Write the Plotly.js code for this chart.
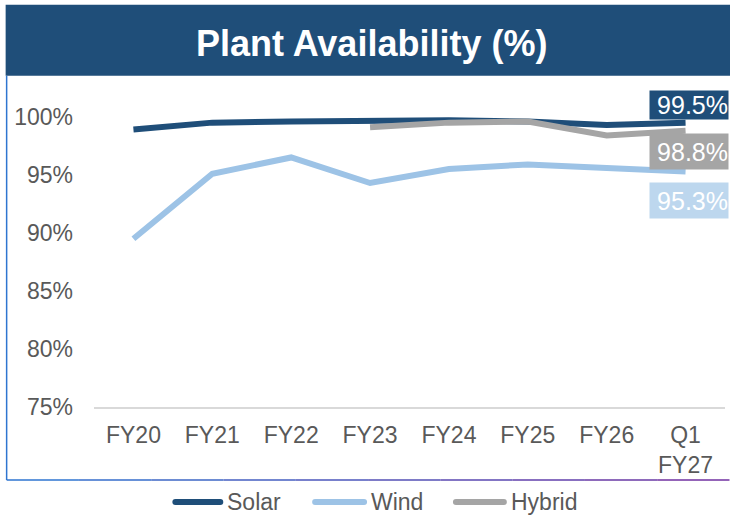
<!DOCTYPE html>
<html>
<head>
<meta charset="utf-8">
<script src="https://cdn.plot.ly/plotly-3.0.1.min.js"></script>
<style>html,body{margin:0;padding:0;background:#fff;}#chart{width:730px;height:518px;}</style>
</head>
<body>
<div id="chart"></div>
<script>
const categories = ["FY20", "FY21", "FY22", "FY23", "FY24", "FY25", "FY26", "Q1<br>FY27"];
const solar  = [98.9, 99.5, 99.6, 99.65, 99.7, 99.6, 99.3, 99.5];
const wind   = [89.5, 95.1, 96.5, 94.3, 95.5, 95.9, 95.6, 95.3];
const hybrid = [null, null, null, 99.1, 99.5, 99.6, 98.4, 98.8];
const yTickVals = [75, 80, 85, 90, 95, 100];
const yTickText = ["75%", "80%", "85%", "90%", "95%", "100%"];
const seriesNames = ["Solar", "Wind", "Hybrid"];
const titleText = "Plant Availability (%)";

const FONT = "Liberation Sans, Arial, sans-serif";
const colors = {Solar: "#1F4E79", Wind: "#9DC3E6", Hybrid: "#A5A5A5"};
const labelBg = {Solar: "#1F4E79", Wind: "#BDD7EE", Hybrid: "#A5A5A5"};
const seriesData = {Solar: solar, Wind: wind, Hybrid: hybrid};

const traces = seriesNames.map(n => ({
  type: "scatter", mode: "lines", name: n,
  x: categories, y: seriesData[n],
  line: {color: colors[n], width: 6},
  connectgaps: false, hoverinfo: "skip", showlegend: false
}));

const W = 730, H = 518, ml = 93.5, mr = 4.5, mt = 82.2, mb = 111;
const pw = W - ml - mr, ph = H - mt - mb;
const px = x => (x - ml) / pw;
const py = y => (H - mb - y) / ph;

// value label boxes (styling positions)
const labelBox = {Solar: [91, 119], Hybrid: [134, 169], Wind: [183, 218]};
const last = categories.length - 1;
const annotations = seriesNames.map(n => ({
  xref: "paper", yref: "paper", x: px(730), xanchor: "right",
  y: py((labelBox[n][0] + labelBox[n][1]) / 2), yanchor: "middle",
  text: seriesData[n][last].toFixed(1) + "%",
  showarrow: false, bgcolor: labelBg[n], width: 78, height: labelBox[n][1] - labelBox[n][0],
  align: "right", borderpad: 0,
  font: {family: FONT, size: 25, color: "#ffffff"}
}));

// title banner text
annotations.push({
  xref: "paper", yref: "paper", x: px(371), y: py(44), xanchor: "center", yanchor: "middle",
  text: "<b>" + titleText + "</b>", showarrow: false,
  font: {family: FONT, size: 36, color: "#ffffff"}
});

const shapes = [];
shapes.push({type: "rect", xref: "paper", yref: "paper", x0: px(5), x1: px(731), y0: py(76), y1: py(5),
  fillcolor: "#1F4E79", line: {width: 0}, layer: "below"});
shapes.push({type: "line", xref: "paper", yref: "paper", x0: px(6), x1: px(6), y0: py(76), y1: py(480),
  line: {color: "#2E75D0", width: 1.5}});
const segs = 10;
for (let i = 0; i < segs; i++) {
  const t = i / (segs - 1);
  const r = Math.round(46 + t * (112 - 46)), g = Math.round(117 + t * (48 - 117)), b = Math.round(208 + t * (160 - 208));
  shapes.push({type: "line", xref: "paper", yref: "paper",
    x0: px(6 + i * (724 / segs)), x1: px(6 + (i + 1) * (724 / segs)), y0: py(480), y1: py(480),
    line: {color: `rgb(${r},${g},${b})`, width: 1.5}});
}

// custom legend (long line swatches)
const legendPos = {Solar: [172, 223], Wind: [312, 367], Hybrid: [453, 507]};
seriesNames.forEach(n => {
  const [a, b] = legendPos[n];
  shapes.push({type: "line", xref: "paper", yref: "paper", x0: px(a + 3), x1: px(b - 3), y0: py(502), y1: py(502),
    line: {color: colors[n], width: 6}});
  shapes.push({type: "circle", xref: "paper", yref: "paper", x0: px(a), x1: px(a + 6), y0: py(505), y1: py(499),
    fillcolor: colors[n], line: {width: 0}});
  shapes.push({type: "circle", xref: "paper", yref: "paper", x0: px(b - 6), x1: px(b), y0: py(505), y1: py(499),
    fillcolor: colors[n], line: {width: 0}});
  annotations.push({xref: "paper", yref: "paper", x: px(b + 2), y: py(502), xanchor: "left", yanchor: "middle",
    text: n, showarrow: false, font: {family: FONT, size: 23, color: "#595959"}});
});

const layout = {
  width: W, height: H,
  margin: {l: ml, r: mr, t: mt, b: mb, pad: 0},
  paper_bgcolor: "#ffffff", plot_bgcolor: "#ffffff",
  font: {family: FONT, size: 23, color: "#595959"},
  showlegend: false,
  xaxis: {type: "category", range: [-0.5, 7.5], showgrid: false, zeroline: false, automargin: false,
    showline: true, linecolor: "#D9D9D9", linewidth: 2, ticks: "", ticklabelstandoff: 6,
    tickfont: {size: 23, color: "#595959"}, fixedrange: true},
  yaxis: {range: [75, 103], tickvals: yTickVals, ticktext: yTickText, showgrid: false, automargin: false,
    zeroline: false, showline: false, ticks: "", ticklabelstandoff: 20,
    tickfont: {size: 23, color: "#595959"}, fixedrange: true},
  annotations: annotations,
  shapes: shapes
};

Plotly.newPlot("chart", traces, layout, {displayModeBar: false, staticPlot: true});
</script>
</body>
</html>
